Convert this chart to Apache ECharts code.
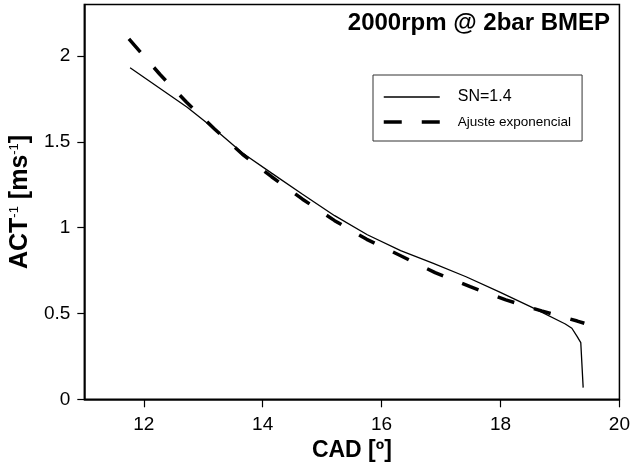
<!DOCTYPE html>
<html>
<head>
<meta charset="utf-8">
<title>ACT-1 vs CAD</title>
<script src="https://cdn.jsdelivr.net/npm/echarts@6/dist/echarts.min.js"></script>
<style>
  html, body { margin: 0; padding: 0; background: #fff; }
  #chart { width: 633px; height: 468px; }
</style>
</head>
<body>
<div id="chart"></div>
<script>
// Measured inverse combustion time (SN=1.4) against crank angle
const snX = [11.77, 12.73, 13.19, 13.66, 14.15, 14.67, 15.21, 15.76, 16.32, 16.86, 17.42, 17.97, 18.53, 19.09, 19.20, 19.29, 19.35, 19.39];
const snY = [1.932, 1.702, 1.575, 1.435, 1.318, 1.195, 1.070, 0.959, 0.866, 0.793, 0.714, 0.627, 0.536, 0.439, 0.414, 0.365, 0.330, 0.068];

// Exponential fit of the same curve
const fitX = [11.75, 12.27, 12.72, 13.19, 13.66, 14.15, 14.67, 15.21, 15.75, 16.33, 16.90, 17.49, 18.09, 18.69, 19.29, 19.41];
const fitY = [2.100, 1.894, 1.731, 1.575, 1.428, 1.297, 1.166, 1.041, 0.932, 0.835, 0.738, 0.656, 0.579, 0.515, 0.456, 0.443];

const xTicks = [12, 14, 16, 18, 20];
const yTicks = [0, 0.5, 1, 1.5, 2];

const seriesNames = ['SN=1.4', 'Ajuste exponencial'];
const titleText = '2000rpm @ 2bar BMEP';

const FONT = '"Liberation Sans", Arial, Helvetica, sans-serif';

function pairs(xs, ys) {
  return xs.map((x, i) => [x, ys[i]]);
}

// legend entries show only the line, no marker
const hiddenMarker = { color: 'rgba(0,0,0,0)', borderWidth: 0, opacity: 0 };

const chart = echarts.init(document.getElementById('chart'), null, { renderer: 'canvas' });

chart.setOption({
  animation: false,
  backgroundColor: '#fff',
  textStyle: { fontFamily: FONT },
  grid: {
    show: true,
    left: 83.25,
    right: 12,
    top: 4.6,
    bottom: 68.7,
    borderColor: '#000',
    borderWidth: 1.5,
    backgroundColor: 'transparent'
  },
  graphic: [{
    type: 'text',
    x: 610,
    y: 23.5,
    style: {
      text: titleText,
      font: 'bold 24px ' + FONT,
      fill: '#000',
      align: 'right',
      verticalAlign: 'middle'
    }
  }],
  legend: {
    left: 373,
    top: 75,
    orient: 'vertical',
    padding: [14, 11, 12, 9],
    itemWidth: 56,
    itemHeight: 14,
    itemGap: 10,
    borderColor: '#333',
    borderWidth: 1,
    backgroundColor: '#fff',
    textStyle: { color: '#000', fontFamily: FONT, padding: [0, 0, 0, 13] },
    data: [
      { name: seriesNames[0], textStyle: { fontSize: 16 }, itemStyle: hiddenMarker, lineStyle: { width: 1.3, type: 'solid', color: '#000' } },
      { name: seriesNames[1], textStyle: { fontSize: 13.5 }, itemStyle: hiddenMarker, lineStyle: { width: 3.5, type: [18, 20], color: '#000' } }
    ]
  },
  xAxis: {
    type: 'value',
    min: 11,
    max: 20,
    name: 'CAD [º]',
    nameLocation: 'middle',
    nameGap: 40,
    nameTextStyle: { fontSize: 23, fontWeight: 'bold', color: '#000', fontFamily: FONT },
    axisLine: { show: true, onZero: false, lineStyle: { color: '#000', width: 1.5 } },
    axisTick: { show: true, inside: false, length: 8, customValues: xTicks, lineStyle: { color: '#000', width: 1.2 } },
    axisLabel: { customValues: xTicks, fontSize: 19, color: '#000', margin: 16, fontFamily: FONT },
    splitLine: { show: false }
  },
  yAxis: {
    type: 'value',
    min: 0,
    max: 2.3,
    name: '{b|ACT}{s|-1}{b| [ms}{s|-1}{b|]}',
    nameLocation: 'middle',
    nameRotate: 90,
    nameGap: 37,
    nameTextStyle: {
      color: '#000',
      rich: {
        b: { fontSize: 25, fontWeight: 'bold', color: '#000', fontFamily: FONT },
        s: { fontSize: 13, color: '#000', fontFamily: FONT, verticalAlign: 'top' }
      }
    },
    axisLine: { show: true, onZero: false, lineStyle: { color: '#000', width: 1.5 } },
    axisTick: { show: true, inside: false, length: 7, customValues: yTicks, lineStyle: { color: '#000', width: 1.2 } },
    axisLabel: { customValues: yTicks, fontSize: 19, color: '#000', margin: 14, fontFamily: FONT },
    splitLine: { show: false }
  },
  series: [
    {
      name: seriesNames[0],
      type: 'line',
      data: pairs(snX, snY),
      showSymbol: false,
      symbol: 'none',
      lineStyle: { color: '#000', width: 1.3, type: 'solid' },
      itemStyle: { color: '#000' },
      z: 3
    },
    {
      name: seriesNames[1],
      type: 'line',
      data: pairs(fitX, fitY),
      showSymbol: false,
      symbol: 'none',
      lineStyle: { color: '#000', width: 3.5, type: [17.5, 20.5], cap: 'butt' },
      itemStyle: { color: '#000' },
      z: 2
    }
  ]
});
</script>
</body>
</html>
